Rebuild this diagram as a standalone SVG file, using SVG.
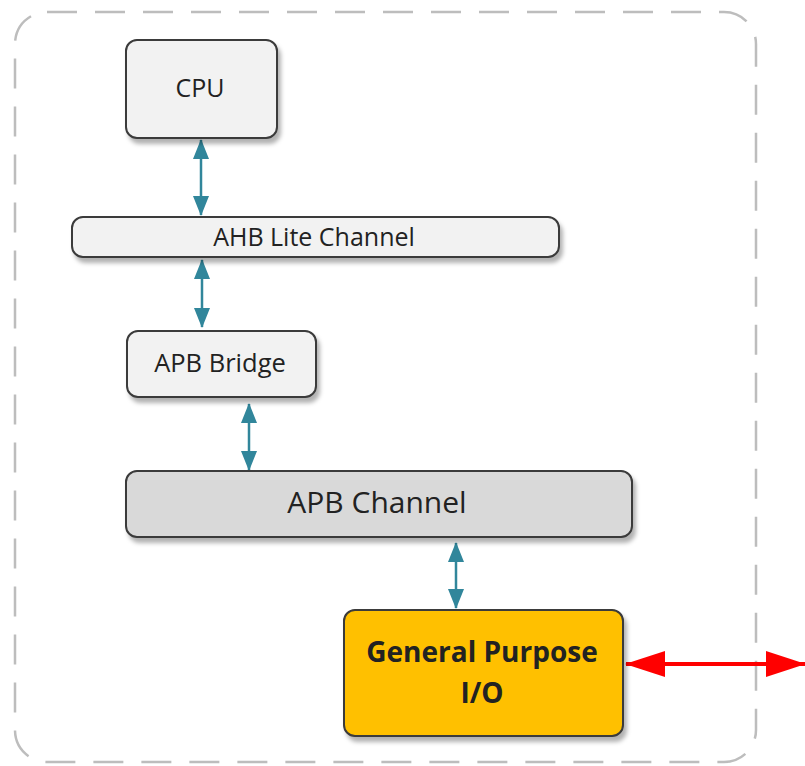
<svg xmlns="http://www.w3.org/2000/svg" width="805" height="766" viewBox="0 0 805 766">
<style>
.box{stroke:#3a3a3a;stroke-width:2;filter:url(#sh)}
.lbl{font-family:"Open Sans","Noto Sans",sans-serif;fill:#222;text-anchor:middle;dominant-baseline:central}
.tl{stroke:#31869b;stroke-width:2.5;fill:none;marker-start:url(#ta);marker-end:url(#ta)}
</style>
<defs>
<filter id="sh" x="-10%" y="-10%" width="130%" height="140%">
<feDropShadow dx="3" dy="5" stdDeviation="2" flood-color="#000" flood-opacity="0.3"/>
</filter>
<marker id="ta" viewBox="0 0 20 16" refX="19" refY="8" markerWidth="20" markerHeight="16" markerUnits="userSpaceOnUse" orient="auto-start-reverse">
<path d="M0,0 L20,8 L0,16 Z" fill="#31869b"/>
</marker>
<marker id="ra" viewBox="0 0 40 26" refX="39" refY="13" markerWidth="40" markerHeight="26" markerUnits="userSpaceOnUse" orient="auto-start-reverse">
<path d="M0,0 L40,13 L0,26 Z" fill="#ff0000"/>
</marker>
</defs>
<rect id="frame" x="15" y="12" width="741" height="750" rx="32" fill="none" stroke="#bdbdbd" stroke-width="2.5" stroke-dasharray="30 18"/>
<g id="connectors">
<line class="tl" x1="201" y1="140" x2="201" y2="215"/>
<line class="tl" x1="202" y1="260" x2="202" y2="327"/>
<line class="tl" x1="249" y1="404" x2="249" y2="470"/>
<line class="tl" x1="456" y1="543" x2="456" y2="608"/>
<line x1="626" y1="664" x2="805" y2="664" stroke="#ff0000" stroke-width="4" marker-start="url(#ra)" marker-end="url(#ra)"/>
</g>
<g id="cpu">
<rect class="box" x="126" y="40" width="151" height="98" rx="11" fill="#f2f2f2"/>
<text class="lbl" x="200" y="87" font-size="25">CPU</text>
</g>
<g id="ahb">
<rect class="box" x="72" y="217" width="487" height="40" rx="11" fill="#f2f2f2"/>
<text class="lbl" x="314" y="236" font-size="25">AHB Lite Channel</text>
</g>
<g id="bridge">
<rect class="box" x="127" y="331" width="189" height="66" rx="11" fill="#f2f2f2"/>
<text class="lbl" x="220" y="362" font-size="25.5">APB Bridge</text>
</g>
<g id="apb">
<rect class="box" x="126" y="471" width="506" height="66" rx="11" fill="#d9d9d9"/>
<text class="lbl" x="377" y="501" font-size="30">APB Channel</text>
</g>
<g id="gpio">
<rect class="box" x="344" y="610" width="279" height="126" rx="11" fill="#ffc000"/>
<text class="lbl" x="482" y="651" font-size="28" font-weight="bold" fill="#111">General Purpose</text>
<text class="lbl" x="482" y="692" font-size="28" font-weight="bold" fill="#111">I/O</text>
</g>
</svg>
